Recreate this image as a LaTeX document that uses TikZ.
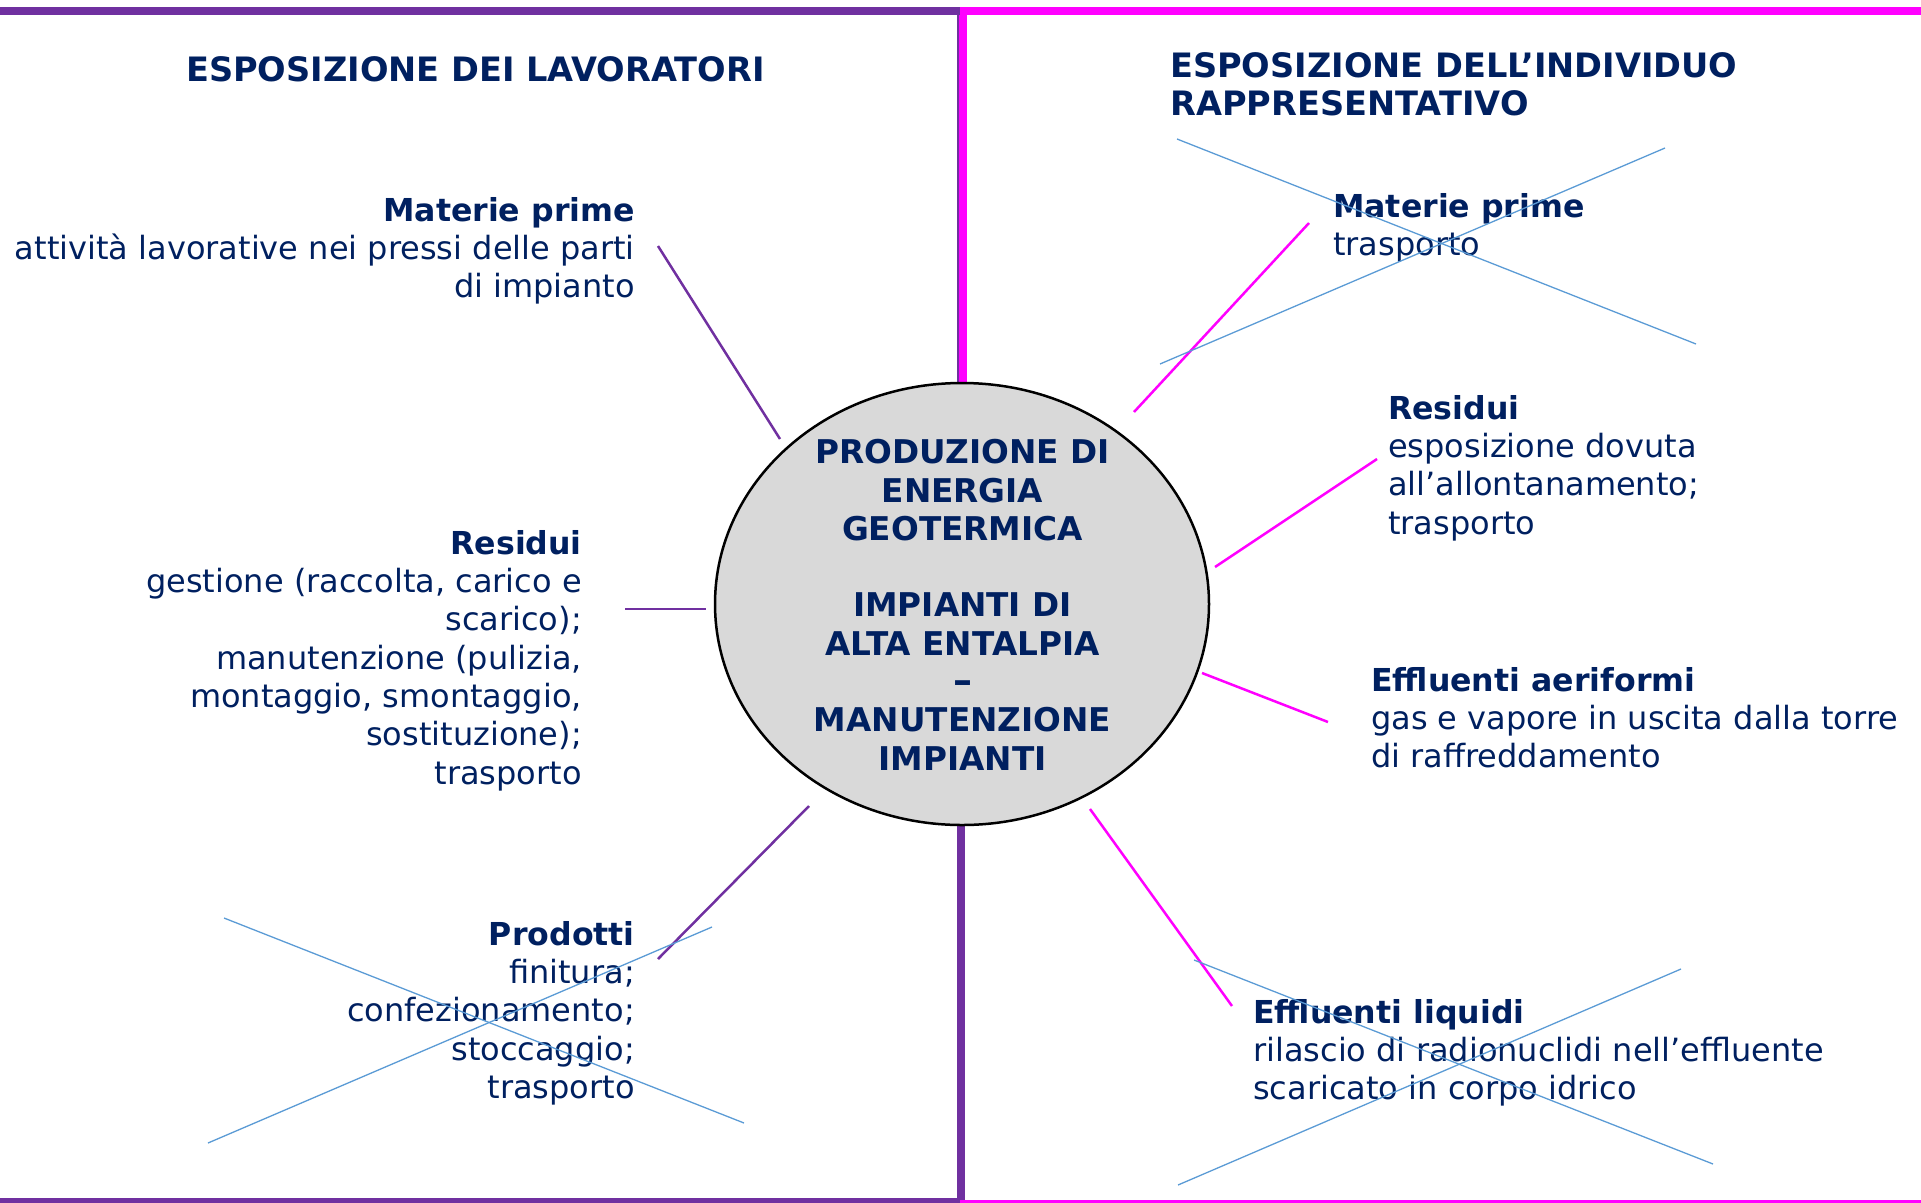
\documentclass[tikz,border=0pt]{standalone}
\usepackage{fontspec}
\setmainfont{DejaVu Sans}
\usetikzlibrary{shapes.geometric}
\definecolor{navy}{HTML}{002060}
\definecolor{purp}{HTML}{7030A0}
\definecolor{mag}{HTML}{FF00FF}
\definecolor{xblue}{HTML}{5B9BD5}
\definecolor{hubgray}{HTML}{D9D9D9}
\newcommand\fstrut{\rule{0pt}{30pt}}
\newcommand\lblhead[1]{{\fontsize{31.6}{38.3}\selectfont\bfseries #1}}
\tikzset{
  lbl/.style={inner sep=0pt, text=navy, font=\fontsize{32}{38.3}\selectfont},
  hdr/.style={inner sep=0pt, text=navy, font=\fontsize{33.6}{38}\selectfont\bfseries, align=left},
  hubtxt/.style={inner sep=0pt, text=navy, font=\fontsize{32.7}{38.3}\selectfont\bfseries, align=center},
  purline/.style={draw=purp, line width=2.5pt},
  magline/.style={draw=mag, line width=2.5pt},
  xline/.style={draw=xblue, line width=1.3pt},
  hubshape/.style={ellipse, draw=black, line width=2.5pt, fill=hubgray, minimum width=494pt, minimum height=442pt, inner sep=0pt},
}
\begin{document}
\begin{tikzpicture}[x=1pt,y=-1pt]
\useasboundingbox (0,0) rectangle (1921,1202);
% frame
\draw[purp, line width=8pt] (961,7) -- (961,1205);
\draw[mag, line width=7.4pt] (963,7) -- (963,400);
\draw[purp, line width=8pt] (-2,10.8) -- (960,10.8);
\draw[mag, line width=8pt] (961,10.5) -- (1923,10.5);
\draw[purp, line width=8pt] (-2,1201.5) -- (960,1201.5);
\draw[mag, line width=4pt] (960,1201.5) -- (1923,1201.5);
% hub
\node[hubshape] (hub) at (962,604) {};
\node[hubtxt, anchor=north] (hubtext) at (962.5,433.5) {\fstrut PRODUZIONE DI\\ENERGIA\\GEOTERMICA\\[38.3pt]IMPIANTI DI\\ALTA ENTALPIA\\{\fontsize{38}{38.3}\selectfont –}\\MANUTENZIONE\\IMPIANTI};
% headings
\node[hdr, anchor=base west] (hL) at (186,81) {ESPOSIZIONE DEI LAVORATORI};
\node[hdr, anchor=north west] (hR) at (1170,47) {\fstrut ESPOSIZIONE DELL’INDIVIDUO\\RAPPRESENTATIVO};
% left labels
\node[lbl, align=right, anchor=north east] (mpL) at (635,191) {\fstrut\lblhead{Materie prime}\\attività lavorative nei pressi delle parti\\di impianto};
\node[lbl, align=right, anchor=north east] (resL) at (582,524) {\fstrut\lblhead{Residui}\\gestione (raccolta, carico e\\scarico);\\manutenzione (pulizia,\\montaggio, smontaggio,\\sostituzione);\\trasporto};
\node[lbl, align=right, anchor=north east] (prodL) at (635,915) {\fstrut\lblhead{Prodotti}\\finitura;\\confezionamento;\\stoccaggio;\\trasporto};
% right labels
\node[lbl, align=left, anchor=north west] (mpR) at (1333,187) {\fstrut\lblhead{Materie prime}\\trasporto};
\node[lbl, align=left, anchor=north west] (resR) at (1388,389) {\fstrut\lblhead{Residui}\\esposizione dovuta\\all’allontanamento;\\trasporto};
\node[lbl, align=left, anchor=north west] (aerR) at (1371,661) {\fstrut\lblhead{Effluenti aeriformi}\\gas e vapore in uscita dalla torre\\di raffreddamento};
\node[lbl, align=left, anchor=north west] (liqR) at (1253,993) {\fstrut\lblhead{Effluenti liquidi}\\rilascio di radionuclidi nell’effluente\\scaricato in corpo idrico};
% connector end points
\coordinate (a1) at (658,246);  \coordinate (a2) at (780,439);
\coordinate (b1) at (625,609);  \coordinate (b2) at (706,609);
\coordinate (c1) at (658,959);  \coordinate (c2) at (809,806);
\coordinate (d1) at (1309,223); \coordinate (d2) at (1134,412);
\coordinate (e1) at (1377,459); \coordinate (e2) at (1215,567);
\coordinate (f1) at (1328,722); \coordinate (f2) at (1202,673);
\coordinate (g1) at (1232,1006); \coordinate (g2) at (1090,809);
\draw[purline] (a1) -- (a2);
\draw[purline] (b1) -- (b2);
\draw[purline] (c1) -- (c2);
\draw[magline] (d1) -- (d2);
\draw[magline] (e1) -- (e2);
\draw[magline] (f1) -- (f2);
\draw[magline] (g1) -- (g2);
% crosses
\coordinate (p1) at (224,918);  \coordinate (p2) at (744,1123);
\coordinate (p3) at (208,1143); \coordinate (p4) at (712,927);
\coordinate (q1) at (1177,139); \coordinate (q2) at (1696,344);
\coordinate (q3) at (1160,364); \coordinate (q4) at (1665,148);
\coordinate (r1) at (1194,960); \coordinate (r2) at (1713,1164);
\coordinate (r3) at (1178,1185); \coordinate (r4) at (1681,969);
\draw[xline] (p1) -- (p2);
\draw[xline] (p3) -- (p4);
\draw[xline] (q1) -- (q2);
\draw[xline] (q3) -- (q4);
\draw[xline] (r1) -- (r2);
\draw[xline] (r3) -- (r4);
\end{tikzpicture}
\end{document}
